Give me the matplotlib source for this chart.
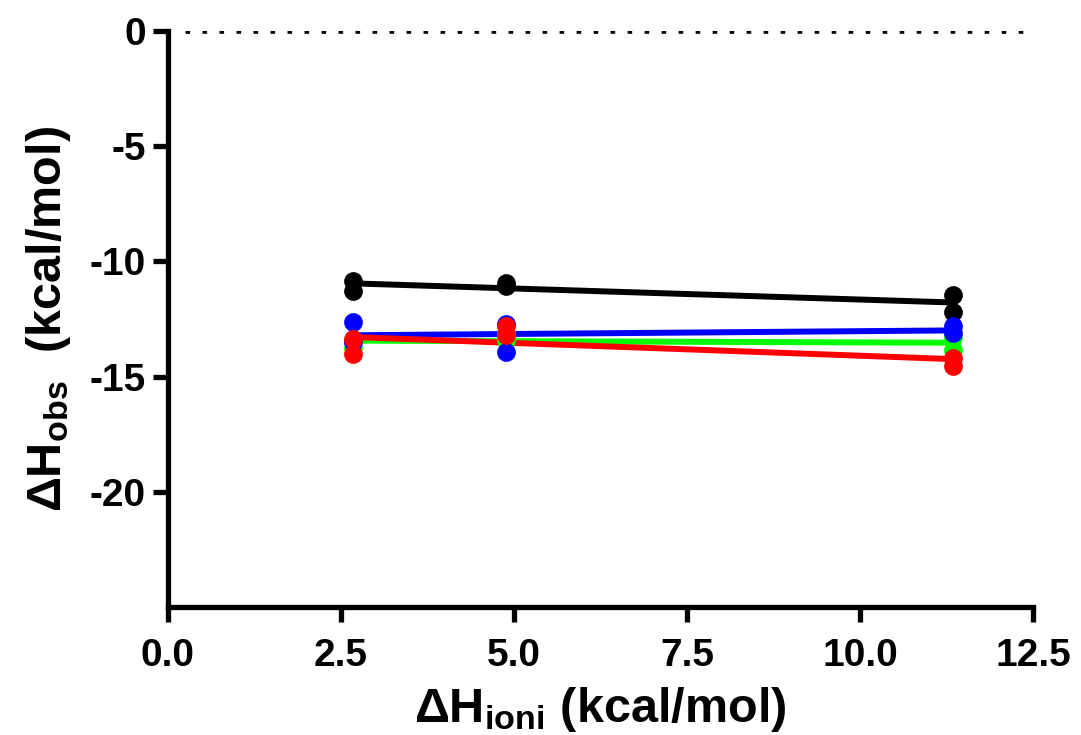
import numpy as np
import matplotlib
matplotlib.use("Agg")
import matplotlib.pyplot as plt

plt.rcParams['font.family'] = ['Liberation Sans', 'DejaVu Sans']
plt.rcParams['font.weight'] = 'bold'
plt.rcParams['mathtext.fontset'] = 'custom'
plt.rcParams['mathtext.rm'] = 'Liberation Sans:bold'
plt.rcParams['mathtext.bf'] = 'Liberation Sans:bold'
plt.rcParams['mathtext.default'] = 'bf'

# ionization enthalpies of the buffers (kcal/mol)
x_buf = [2.68, 2.68, 4.88, 4.88, 11.35, 11.35]

# observed enthalpies, two replicates per buffer
black_y = [-10.85, -11.3, -10.95, -11.05, -11.45, -12.2]
green_y = [-13.4, -13.75, -13.15, -13.4, -13.3, -13.85]
blue_y = [-12.65, -13.5, -12.7, -13.95, -12.8, -13.1]
red_y = [-13.35, -14.0, -12.8, -13.2, -14.2, -14.55]

series = [(black_y, 'black'), (green_y, '#00ff00'), (blue_y, '#0000ff'), (red_y, '#ff0000')]

fig = plt.figure(figsize=(10.81, 7.35), dpi=100)
ax = fig.add_axes([0.1554, 0.1741, 0.8002, 0.7837])

# dotted zero line
ax.axhline(0, xmin=0.02, xmax=1, color='black', linestyle=(0, (1.0, 2.71)), linewidth=3.3,
           dash_capstyle='butt', zorder=1)

xs = np.array(x_buf)
for ys, c in series:
    ys = np.array(ys)
    m, b = np.polyfit(xs, ys, 1)
    xx = np.array([xs.min(), xs.max()])
    ax.plot(xx, m * xx + b, color=c, linewidth=4.3, zorder=2)
    ax.plot(xs, ys, 'o', color=c, markersize=13.5, markeredgewidth=0, zorder=3)

ax.set_xlim(0, 12.5)
ax.set_ylim(-25, 0)
ax.set_xticks([0, 2.5, 5, 7.5, 10, 12.5])
ax.set_xticklabels(['0.0', '2.5', '5.0', '7.5', '10.0', '12.5'])
ax.set_yticks([0, -5, -10, -15, -20])
ax.set_yticklabels(['0', '-5', '-10', '-15', '-20'])

for s in ['top', 'right']:
    ax.spines[s].set_visible(False)
for s in ['left', 'bottom']:
    ax.spines[s].set_linewidth(3.8)
ax.tick_params(width=3.8, length=11, labelsize=28)
ax.tick_params(axis='x', pad=11)
ax.tick_params(axis='y', pad=5)
for lab in ax.get_xticklabels() + ax.get_yticklabels():
    lab.set_fontweight('bold')

ax.set_xlabel(r'ΔH$_{ioni}$ (kcal/mol)', fontsize=35, fontweight='bold', labelpad=8)
ax.set_ylabel(r'ΔH$_{obs}$  (kcal/mol)', fontsize=35, fontweight='bold', labelpad=12)

fig.savefig('out.png', dpi=100)
